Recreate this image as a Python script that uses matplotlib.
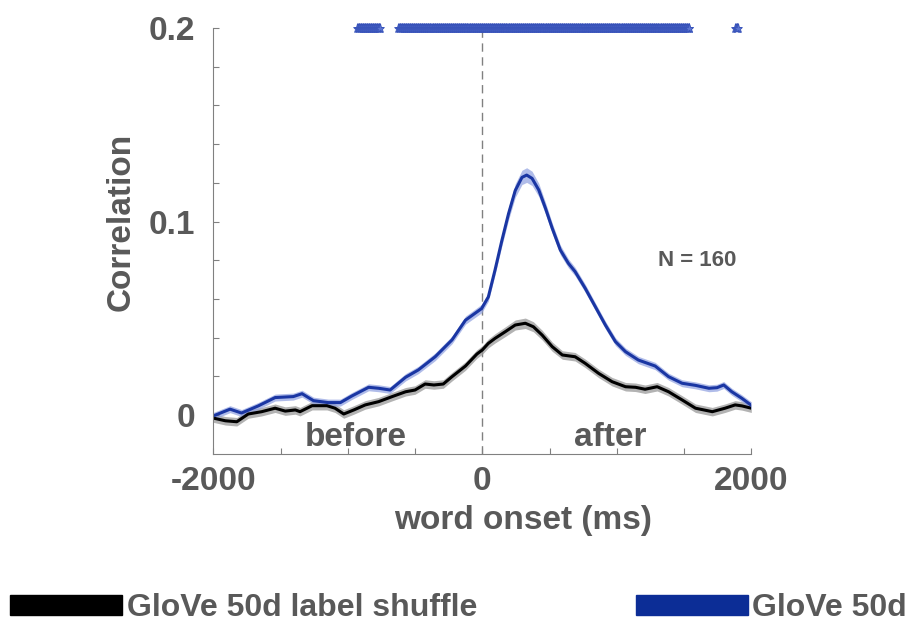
import numpy as np
import matplotlib
matplotlib.use("Agg")
import matplotlib.pyplot as plt
from matplotlib.patches import Patch

plt.rcParams['font.family'] = ['Liberation Sans', 'DejaVu Sans']
plt.rcParams['font.weight'] = 'bold'
plt.rcParams['axes.unicode_minus'] = False

TEXT = '#595959'
AXIS = '#808080'
BLUE = '#1a36a3'
BLUE_BOX = '#0c2d96'

# GloVe 50d: mean correlation (and SEM) vs. time from word onset
glove_t = [-2000, -1875, -1790, -1665, -1540, -1405, -1340, -1255, -1145, -1055,
           -970, -845, -770, -685, -570, -475, -350, -225, -125, -5,
           45, 95, 145, 195, 245, 295, 330, 370, 420, 470,
           520, 580, 640, 690, 765, 840, 915, 990, 1065, 1160,
           1285, 1385, 1485, 1585, 1685, 1745, 1795, 1855, 1930, 2000]
glove_r = [-0.0005, 0.0030, 0.0010, 0.0047, 0.0090, 0.0095, 0.0110, 0.0074, 0.0064, 0.0064,
           0.0098, 0.0143, 0.0138, 0.0129, 0.0195, 0.0233, 0.0301, 0.0388, 0.0490, 0.0550,
           0.0610, 0.0750, 0.0900, 0.1040, 0.1160, 0.1228, 0.1240, 0.1223, 0.1163, 0.1068,
           0.0965, 0.0853, 0.0784, 0.0741, 0.0655, 0.0560, 0.0465, 0.0379, 0.0327, 0.0284,
           0.0253, 0.0198, 0.0164, 0.0153, 0.0138, 0.0141, 0.0155, 0.0120, 0.0086, 0.0050]
glove_sem = [0.0018, 0.0018, 0.0018, 0.0018, 0.0018, 0.0018, 0.0018, 0.0018, 0.0018, 0.0018,
             0.0018, 0.0018, 0.0018, 0.0018, 0.0019, 0.0019, 0.0020, 0.0020, 0.0021, 0.0022,
             0.0022, 0.0025, 0.0028, 0.0032, 0.0035, 0.0037, 0.0038, 0.0037, 0.0034, 0.0030,
             0.0027, 0.0025, 0.0023, 0.0022, 0.0021, 0.0020, 0.0020, 0.0020, 0.0019, 0.0019,
             0.0019, 0.0018, 0.0018, 0.0018, 0.0018, 0.0018, 0.0018, 0.0018, 0.0018, 0.0018]

# label-shuffled control
shuf_t = [-2000, -1910, -1825, -1740, -1640, -1540, -1465, -1390, -1355, -1265,
          -1155, -1095, -1030, -955, -870, -770, -670, -570, -500, -425,
          -360, -290, -225, -125, -40, 0, 45, 95, 170, 245,
          320, 380, 445, 520, 595, 690, 765, 865, 965, 1065,
          1140, 1210, 1300, 1385, 1485, 1585, 1710, 1805, 1880, 1930, 2000]
shuf_r = [-0.0016, -0.0030, -0.0035, 0.0005, 0.0017, 0.0035, 0.0020, 0.0026, 0.0017, 0.0048,
          0.0048, 0.0035, 0.0005, 0.0026, 0.0052, 0.0069, 0.0095, 0.0120, 0.0129, 0.0160,
          0.0155, 0.0160, 0.0198, 0.0253, 0.0315, 0.0336, 0.0370, 0.0396, 0.0430, 0.0465,
          0.0474, 0.0456, 0.0413, 0.0353, 0.0310, 0.0301, 0.0267, 0.0215, 0.0172, 0.0146,
          0.0143, 0.0133, 0.0146, 0.0120, 0.0078, 0.0035, 0.0017, 0.0035, 0.0052, 0.0047, 0.0035]
shuf_sem = [0.0022] * 26 + [0.0023, 0.0024, 0.0025, 0.0026, 0.0027, 0.0026, 0.0025, 0.0024] + [0.0022] * 17

# time windows where GloVe > shuffle (significant)
sig_start = [-930, -625, 1880]
sig_end = [-760, 1540, 1900]

fig = plt.figure(figsize=(9.24, 6.23), dpi=100)
ax = fig.add_axes([0.2308, 0.2718, 0.5823, 0.6832])

ax.fill_between(shuf_t, np.array(shuf_r) - shuf_sem, np.array(shuf_r) + shuf_sem,
                color='#9a9a9a', alpha=0.75, lw=0)
ax.plot(shuf_t, shuf_r, color='black', lw=2.2)
ax.fill_between(glove_t, np.array(glove_r) - glove_sem, np.array(glove_r) + glove_sem,
                color='#8fa0e0', alpha=0.7, lw=0)
ax.plot(glove_t, glove_r, color=BLUE, lw=2.2)

ax.axvline(0, color=AXIS, lw=1, ls=(0, (6, 4)), zorder=0)

# significance markers along the top, one per 5 ms sample
grid = np.arange(-2000, 2001, 5)
for s, e in zip(sig_start, sig_end):
    pts = grid[(grid >= s) & (grid <= e)]
    ax.plot(pts, np.full(len(pts), 0.2), ls='none', marker='*', ms=6.5,
            color='#5a74d0', mec='#3550b8', mew=0.5, clip_on=False, zorder=5)

ax.set_xlim(-2000, 2000)
ax.set_ylim(-0.02, 0.2)
ax.set_xticks([-2000, 0, 2000])
ax.set_xticks(np.arange(-2000, 2001, 500), minor=True)
ax.set_yticks([0, 0.1, 0.2])
ax.set_yticklabels(['0', '0.1', '0.2'])
ax.set_yticks(np.arange(0, 0.201, 0.02), minor=True)
ax.tick_params(which='both', direction='in', length=4, width=0.8, color=AXIS,
               labelsize=24, labelcolor=TEXT)
ax.tick_params(axis='y', which='both', pad=13)
ax.tick_params(axis='x', which='both', pad=9)

for side in ['top', 'right']:
    ax.spines[side].set_visible(False)
for side in ['left', 'bottom']:
    ax.spines[side].set_color(AXIS)
    ax.spines[side].set_linewidth(0.8)

ax.set_xlabel('word onset (ms)', fontsize=24, color=TEXT, fontweight='bold')
ax.xaxis.set_label_coords(0.576, -0.12)
ax.set_ylabel('Correlation', fontsize=24, color=TEXT, fontweight='bold')
ax.yaxis.set_label_coords(-0.142, 0.544)

ax.text(-940, -0.0115, 'before', fontsize=24, color=TEXT, ha='center', va='center')
ax.text(950, -0.0115, 'after', fontsize=24, color=TEXT, ha='center', va='center')
ax.text(1600, 0.080, 'N = 160', fontsize=16, color=TEXT, ha='center', va='center')

handles = [Patch(color='black'), Patch(color=BLUE_BOX)]
fig.legend(handles, ['GloVe 50d label shuffle', 'GloVe 50d'], loc='lower left',
           bbox_to_anchor=(0.011, 0.0), ncol=2, frameon=False, fontsize=23,
           handlelength=3.5, handleheight=0.6, handletextpad=0.15,
           columnspacing=4.97, borderpad=0.0, borderaxespad=0.0, labelcolor=TEXT)

fig.savefig('out.png', dpi=100)
